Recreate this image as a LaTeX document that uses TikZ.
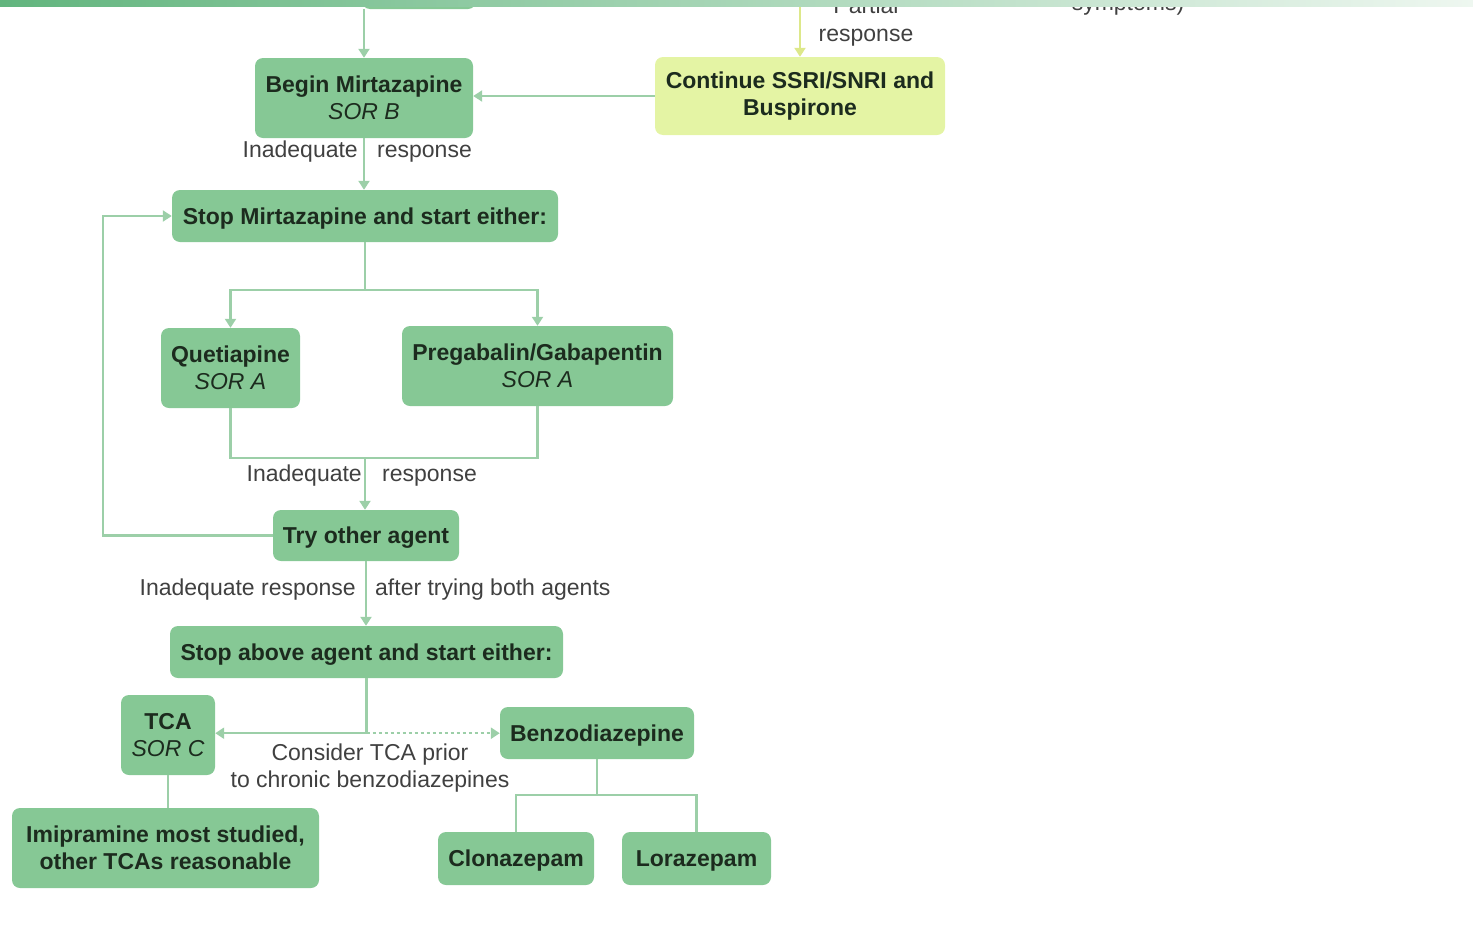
\documentclass[tikz,border=0pt]{standalone}
\usepackage{fontspec}
\setmainfont{Liberation Sans}
\usetikzlibrary{arrows.meta,positioning}
\definecolor{boxgreen}{HTML}{86C895}
\definecolor{boxyellow}{HTML}{E4F4A4}
\definecolor{linegreen}{HTML}{9CCFA8}
\definecolor{lineyellow}{HTML}{DDE88A}
\definecolor{boxtext}{HTML}{1C2B1E}
\definecolor{lbltext}{HTML}{404040}
\definecolor{barA}{HTML}{62B57E}
\definecolor{barB}{HTML}{8CDAAA}
\definecolor{barC}{HTML}{EEF7F0}

\begin{document}
\begin{tikzpicture}[x=1pt,y=-1pt,
  box/.style={fill=boxgreen,rounded corners=8pt,text=boxtext,align=center,inner sep=0pt,
    font=\bfseries\fontsize{23}{27.5}\selectfont},
  single/.style={box,text depth=0pt},
  ybox/.style={box,fill=boxyellow},
  lbl/.style={text=lbltext,inner sep=0pt,align=center,font=\fontsize{23}{27.5}\selectfont},
  link/.style={draw=linegreen,line width=2.5pt},
  arr/.style={link,-{Triangle[length=9pt,width=11pt]}},
  yarr/.style={draw=lineyellow,line width=2.5pt,-{Triangle[length=9pt,width=11pt]}}]
\useasboundingbox (0,0) rectangle (1473,932);

\node[box,minimum width=114pt,minimum height=78pt] (prev) at (419,-30) {};
\node[lbl,anchor=base] (partial) at (866,13) {Partial};
\node[lbl,anchor=base] (partresp) at (866,41) {response};
\node[lbl,anchor=base] (sympt) at (1128,10) {symptoms)};

\node[box,minimum width=218pt,minimum height=80pt] (begin) at (364,98) {Begin Mirtazapine\\{\mdseries\itshape SOR B}};
\node[ybox,minimum width=290pt,minimum height=78pt] (cont) at (800,96) {Continue SSRI/SNRI and\\Buspirone};
\node[single,minimum width=386pt,minimum height=52pt] (stopm) at (365,216) {Stop Mirtazapine and start either:};
\node[box,minimum width=139pt,minimum height=80pt] (quet) at (230.5,368) {Quetiapine\\{\mdseries\itshape SOR A}};
\node[box,minimum width=271pt,minimum height=80pt] (preg) at (537.5,366) {Pregabalin/Gabapentin\\{\mdseries\itshape SOR A}};
\node[single,minimum width=186pt,minimum height=51pt] (try) at (366,535.5) {Try other agent};
\node[single,minimum width=393pt,minimum height=52pt] (stopa) at (366.5,652) {Stop above agent and start either:};
\node[box,minimum width=94pt,minimum height=80pt] (tca) at (168,735) {TCA\\{\mdseries\itshape SOR C}};
\node[single,minimum width=194pt,minimum height=52pt] (benzo) at (597,733) {Benzodiazepine};
\node[box,minimum width=307pt,minimum height=80pt] (imip) at (165.5,848) {Imipramine most studied,\\other TCAs reasonable};
\node[single,minimum width=156pt,minimum height=53pt] (clon) at (516,858.5) {Clonazepam};
\node[single,minimum width=149pt,minimum height=53pt] (lora) at (696.5,858.5) {Lorazepam};

\node[lbl,anchor=base east] (inad1) at (358,157) {Inadequate};
\node[lbl,anchor=base west] (resp1) at (377,157) {response};
\node[lbl,anchor=base east] (inad2) at (362,481) {Inadequate};
\node[lbl,anchor=base west] (resp2) at (382,481) {response};
\node[lbl,anchor=base east] (inad3) at (356,595) {Inadequate response};
\node[lbl,anchor=base west] (resp3) at (375,595) {after trying both agents};
\node[lbl] (consider) at (370,768) {Consider TCA prior\\to chronic benzodiazepines};

\draw[arr] (begin.north |- prev.south) -- (begin.north);
\draw[yarr] (cont.north |- 0,0) -- (cont.north);
\draw[arr] (cont.west) -- (cont.west -| begin.east);
\draw[arr] (begin.south) -- (begin.south |- stopm.north);
\draw[link] (stopm.south) -- ++(0,48) coordinate (split1);
\draw[arr] (split1) -| (quet.north);
\draw[arr] (split1) -| (preg.north);
\coordinate (merge1) at (365,458);
\draw[link] (quet.south) |- (merge1) -| (preg.south);
\draw[arr] (merge1) -- (merge1 |- try.north);
\draw[arr] (try.west) -- ++(-170,0) |- (stopm.west);
\draw[arr] (try.south) -- (try.south |- stopa.north);
\draw[link] (stopa.south) -- ++(0,55) coordinate (split2);
\draw[arr] (split2) -- (split2 -| tca.east);
\draw[arr,dash pattern=on 3pt off 3pt] (split2) -- (split2 -| benzo.west);
\draw[link] (tca.south) -- (tca.south |- imip.north);
\draw[link] (benzo.south) -- ++(0,36) coordinate (split3);
\draw[link] (split3) -| (clon.north);
\draw[link] (split3) -| (lora.north);

\shade[left color=barA,middle color=barB,right color=barC] (0,0) rectangle (1473,6);
\end{tikzpicture}
\end{document}
